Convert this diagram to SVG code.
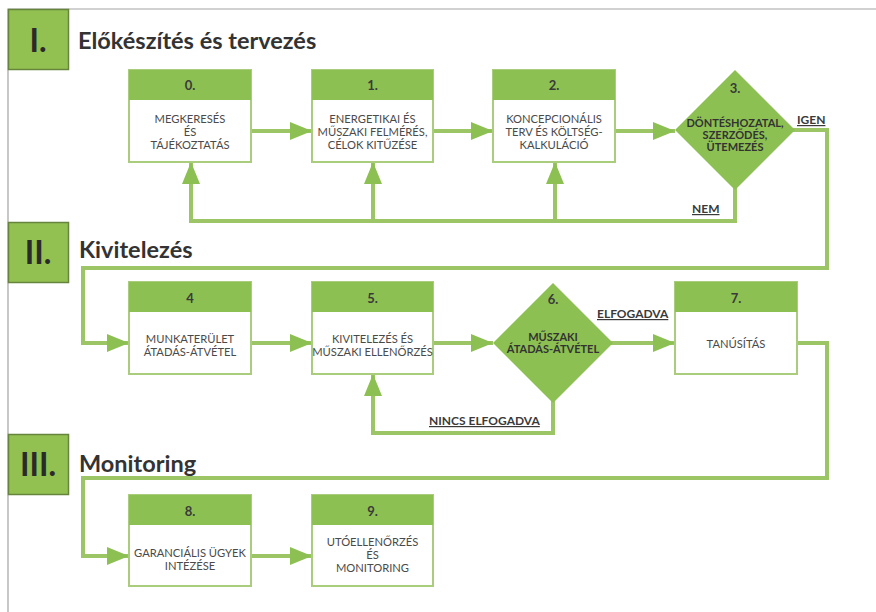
<svg xmlns="http://www.w3.org/2000/svg" width="876" height="612" viewBox="0 0 876 612">
  <style>
    .frame { fill: none; stroke: #a3a3a3; stroke-width: 1.2; }
    .sec { fill: #92c152; stroke: #66843c; stroke-width: 1.5; }
    .num { font-family: Lato, "Open Sans", sans-serif; font-weight: 700; font-size: 32px; fill: #2a2a2a; text-anchor: middle; }
    .title { font-family: Lato, "Open Sans", sans-serif; font-weight: 700; font-size: 23.5px; fill: #333; }
    .box { fill: #fff; stroke: #a9cd7c; stroke-width: 2; }
    .head { fill: #8dc052; }
    .hdr { font-family: Lato, "Open Sans", sans-serif; font-weight: 700; font-size: 13px; fill: #3a3a3a; text-anchor: middle; }
    .body { font-family: Lato, "Open Sans", sans-serif; font-size: 11.2px; fill: #4a4a4a; text-anchor: middle; }
    .dia { fill: #8dc052; }
    .dtxt { font-family: Lato, "Open Sans", sans-serif; font-weight: 700; font-size: 11px; fill: #333; text-anchor: middle; }
    .lbl { font-family: Lato, "Open Sans", sans-serif; font-weight: 700; font-size: 12px; fill: #3a3a3a; text-decoration: underline; }
    .conn { fill: none; stroke: #9cc565; stroke-width: 4; }
  </style>
  <defs>
    <marker id="arr" viewBox="0 0 22 18" refX="22" refY="9" markerWidth="22" markerHeight="18" orient="auto" markerUnits="userSpaceOnUse">
      <path d="M0,0 L22,9 L0,18 Z" fill="#8dc052"/>
    </marker>
  </defs>

  <rect width="876" height="612" fill="#fff"/>
  <!-- page frame -->
  <path class="frame" d="M8,612 V9 H876"/>

  <!-- section headers -->
  <g id="section-1">
    <rect class="sec" x="8.5" y="9.5" width="60" height="60"/>
    <text class="num" x="38" y="52">I.</text>
    <text class="title" x="78" y="49">Előkészítés és tervezés</text>
  </g>
  <g id="section-2">
    <rect class="sec" x="8.5" y="222.5" width="60" height="60"/>
    <text class="num" x="38" y="264">II.</text>
    <text class="title" x="79" y="258">Kivitelezés</text>
  </g>
  <g id="section-3">
    <rect class="sec" x="8.5" y="434.5" width="60" height="60"/>
    <text class="num" x="38" y="476">III.</text>
    <text class="title" x="79" y="472">Monitoring</text>
  </g>

  <!-- connectors -->
  <g id="connectors">
    <path class="conn" d="M251,131 H312" marker-end="url(#arr)"/>
    <path class="conn" d="M433,131 H493" marker-end="url(#arr)"/>
    <path class="conn" d="M615,131 H675" marker-end="url(#arr)"/>
    <path class="conn" d="M735,188 V221 H191 V162" marker-end="url(#arr)"/>
    <path class="conn" d="M373,221 V162" marker-end="url(#arr)"/>
    <path class="conn" d="M555,221 V162" marker-end="url(#arr)"/>
    <path class="conn" d="M793,130 H827 V268 H83 V343 H129" marker-end="url(#arr)"/>
    <path class="conn" d="M251,343 H312" marker-end="url(#arr)"/>
    <path class="conn" d="M433,343 H493" marker-end="url(#arr)"/>
    <path class="conn" d="M611,343 H675" marker-end="url(#arr)"/>
    <path class="conn" d="M553,401 V433 H373 V374" marker-end="url(#arr)"/>
    <path class="conn" d="M797,343 H827 V478 H83 V556 H129" marker-end="url(#arr)"/>
    <path class="conn" d="M251,556 H312" marker-end="url(#arr)"/>
    <text class="lbl" x="797" y="124">IGEN</text>
    <text class="lbl" x="692" y="213">NEM</text>
    <text class="lbl" x="597" y="318">ELFOGADVA</text>
    <text class="lbl" x="429" y="425">NINCS ELFOGADVA</text>
  </g>

  <!-- step 0 -->
  <g id="step-0">
    <rect class="box" x="129" y="70" width="122" height="92"/>
    <rect class="head" x="129" y="70" width="122" height="30"/>
    <text class="hdr" x="190" y="90">0.</text>
    <text class="body" x="190" y="123">MEGKERESÉS</text>
    <text class="body" x="190" y="136">ÉS</text>
    <text class="body" x="190" y="149">TÁJÉKOZTATÁS</text>
  </g>
  <!-- step 1 -->
  <g id="step-1">
    <rect class="box" x="312" y="70" width="121" height="92"/>
    <rect class="head" x="312" y="70" width="121" height="30"/>
    <text class="hdr" x="372.5" y="90">1.</text>
    <text class="body" x="372.5" y="123">ENERGETIKAI ÉS</text>
    <text class="body" x="372.5" y="136">MŰSZAKI FELMÉRÉS,</text>
    <text class="body" x="372.5" y="149">CÉLOK KITŰZÉSE</text>
  </g>
  <!-- step 2 -->
  <g id="step-2">
    <rect class="box" x="493" y="70" width="122" height="92"/>
    <rect class="head" x="493" y="70" width="122" height="30"/>
    <text class="hdr" x="554" y="90">2.</text>
    <text class="body" x="554" y="123">KONCEPCIONÁLIS</text>
    <text class="body" x="554" y="136">TERV ÉS KÖLTSÉG-</text>
    <text class="body" x="554" y="149">KALKULÁCIÓ</text>
  </g>
  <!-- step 3: decision -->
  <g id="step-3">
    <polygon class="dia" points="735,70 795,130 735,190 675,130"/>
    <text class="hdr" x="735" y="93">3.</text>
    <text class="dtxt" x="735" y="127">DÖNTÉSHOZATAL,</text>
    <text class="dtxt" x="735" y="139">SZERZŐDÉS,</text>
    <text class="dtxt" x="735" y="151">ÜTEMEZÉS</text>
  </g>

  <!-- step 4 -->
  <g id="step-4">
    <rect class="box" x="129" y="282" width="122" height="92"/>
    <rect class="head" x="129" y="282" width="122" height="30"/>
    <text class="hdr" x="190" y="303">4</text>
    <text class="body" x="190" y="343">MUNKATERÜLET</text>
    <text class="body" x="190" y="356">ÁTADÁS-ÁTVÉTEL</text>
  </g>
  <!-- step 5 -->
  <g id="step-5">
    <rect class="box" x="312" y="282" width="121" height="92"/>
    <rect class="head" x="312" y="282" width="121" height="30"/>
    <text class="hdr" x="372.5" y="303">5.</text>
    <text class="body" x="372.5" y="343">KIVITELEZÉS ÉS</text>
    <text class="body" x="372.5" y="356">MŰSZAKI ELLENŐRZÉS</text>
  </g>
  <!-- step 6: decision -->
  <g id="step-6">
    <polygon class="dia" points="553,283 613,343 553,403 493,343"/>
    <text class="hdr" x="553" y="304">6.</text>
    <text class="dtxt" x="553" y="341">MŰSZAKI</text>
    <text class="dtxt" x="553" y="353">ÁTADÁS-ÁTVÉTEL</text>
  </g>
  <!-- step 7 -->
  <g id="step-7">
    <rect class="box" x="675" y="282" width="122" height="92"/>
    <rect class="head" x="675" y="282" width="122" height="30"/>
    <text class="hdr" x="736" y="303">7.</text>
    <text class="body" x="736" y="348">TANÚSÍTÁS</text>
  </g>

  <!-- step 8 -->
  <g id="step-8">
    <rect class="box" x="129" y="495" width="122" height="91"/>
    <rect class="head" x="129" y="495" width="122" height="30"/>
    <text class="hdr" x="190" y="516">8.</text>
    <text class="body" x="190" y="557">GARANCIÁLIS ÜGYEK</text>
    <text class="body" x="190" y="570">INTÉZÉSE</text>
  </g>
  <!-- step 9 -->
  <g id="step-9">
    <rect class="box" x="312" y="495" width="121" height="91"/>
    <rect class="head" x="312" y="495" width="121" height="30"/>
    <text class="hdr" x="372.5" y="516">9.</text>
    <text class="body" x="372.5" y="546">UTÓELLENŐRZÉS</text>
    <text class="body" x="372.5" y="559">ÉS</text>
    <text class="body" x="372.5" y="572">MONITORING</text>
  </g>
</svg>
